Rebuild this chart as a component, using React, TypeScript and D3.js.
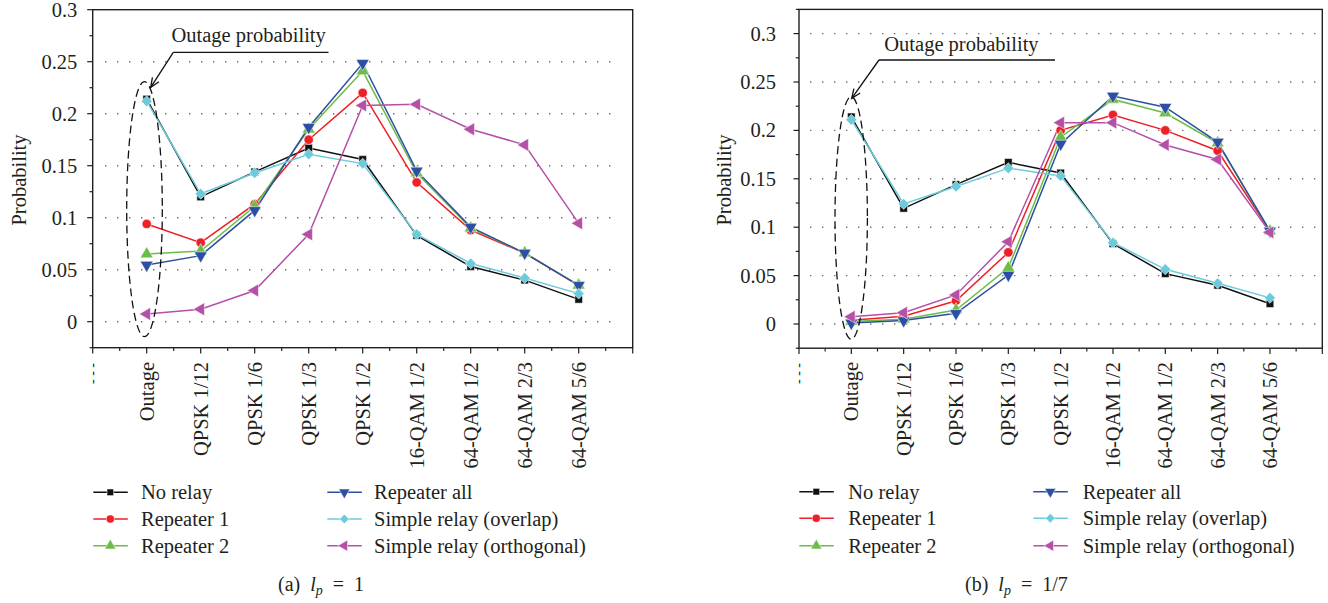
import React from "react";
import * as d3 from "d3";

const categories = ["Outage", "QPSK 1/12", "QPSK 1/6", "QPSK 1/3", "QPSK 1/2", "16-QAM 1/2", "64-QAM 1/2", "64-QAM 2/3", "64-QAM 5/6"];
const seriesNames = ["No relay", "Repeater 1", "Repeater 2", "Repeater all", "Simple relay (overlap)", "Simple relay (orthogonal)"];

// (a) l_p = 1
const noRelayA = [0.214, 0.120, 0.144, 0.167, 0.156, 0.083, 0.053, 0.040, 0.0215];
const repeater1A = [0.094, 0.076, 0.113, 0.175, 0.220, 0.134, 0.088, 0.066, 0.035];
const repeater2A = [0.065, 0.068, 0.111, 0.185, 0.241, 0.143, 0.090, 0.066, 0.035];
const repeaterAllA = [0.0545, 0.0635, 0.107, 0.187, 0.2485, 0.145, 0.091, 0.066, 0.035];
const overlapA = [0.212, 0.123, 0.143, 0.161, 0.152, 0.084, 0.056, 0.042, 0.027];
const orthogonalA = [0.0074, 0.012, 0.030, 0.084, 0.208, 0.209, 0.185, 0.170, 0.0946];

// (b) l_p = 1/7
const noRelayB = [0.214, 0.1195, 0.144, 0.167, 0.156, 0.083, 0.052, 0.040, 0.021];
const repeater1B = [0.004, 0.008, 0.024, 0.074, 0.200, 0.216, 0.200, 0.179, 0.096];
const repeater2B = [0.0025, 0.005, 0.0145, 0.058, 0.193, 0.232, 0.218, 0.187, 0.096];
const repeaterAllB = [0.001, 0.0035, 0.011, 0.0506, 0.186, 0.2355, 0.224, 0.188, 0.096];
const overlapB = [0.211, 0.124, 0.142, 0.161, 0.153, 0.084, 0.0565, 0.042, 0.027];
const orthogonalB = [0.0075, 0.0117, 0.030, 0.085, 0.208, 0.208, 0.185, 0.170, 0.0947];

const yTickLabelsA = [0, 0.05, 0.1, 0.15, 0.2, 0.25, 0.3];
const yTickLabelsB = [0, 0.05, 0.1, 0.15, 0.2, 0.25, 0.3];
const gridA = [0, 0.05, 0.1, 0.15, 0.2, 0.25];
const gridB = [0, 0.05, 0.1, 0.15, 0.2, 0.25, 0.3];

const COLORS = ["#111111", "#ee1f26", "#6cbd45", "#2c4fa3", "#6ccbdb", "#b550a7"];
const TEXT = "#231f20";
const FONT = "'Liberation Serif', 'Times New Roman', serif";

type Shape = "square" | "circle" | "up" | "down" | "diamond" | "left";
const SHAPES: Shape[] = ["square", "circle", "up", "down", "diamond", "left"];

function markerPath(shape: Shape, scale: number): { d: string; rot: number } {
  const s = scale;
  switch (shape) {
    case "square":
      return { d: d3.symbol(d3.symbolSquare, 58 * s)()!, rot: 0 };
    case "circle":
      return { d: d3.symbol(d3.symbolCircle, 68 * s)()!, rot: 0 };
    case "up":
      return { d: d3.symbol(d3.symbolTriangle, 72 * s)()!, rot: 0 };
    case "down":
      return { d: d3.symbol(d3.symbolTriangle, 72 * s)()!, rot: 180 };
    case "diamond":
      return { d: d3.symbol(d3.symbolSquare, 60 * s)()!, rot: 45 };
    case "left":
      return { d: d3.symbol(d3.symbolTriangle, 72 * s)()!, rot: -90 };
  }
}

function Marker({ shape, x, y, color, scale = 1 }: { shape: Shape; x: number; y: number; color: string; scale?: number }) {
  const m = markerPath(shape, scale);
  return <path d={m.d} transform={`translate(${x},${y}) rotate(${m.rot})`} fill={color} stroke="#ffffff" strokeWidth={0.5} />;
}

interface PanelProps {
  series: number[][];
  xRange: [number, number];
  yDomain: [number, number];
  yRange: [number, number];
  grid: number[];
  gridX: [number, number];
  yLabels: number[];
  labelGap: number;
  titleX: number;
  annotation: { tx: number; ty: number; ux1: number; ux2: number; uy: number; ax: number; ay: number; ex: number; ey: number; erx: number; ery: number };
  legend: { c1line: number; c1text: number; c2line: number; c2text: number; rows: number[] };
  caption: { x: number; y: number; letter: string; value: string };
}

function Panel(p: PanelProps) {
  const x = d3.scaleLinear().domain([-1, 9]).range(p.xRange);
  const y = d3.scaleLinear().domain(p.yDomain).range(p.yRange);
  const line = d3
    .line<number>()
    .x((_, i) => x(i))
    .y((d) => y(d));
  const [x0, x1] = p.xRange;
  const yBottom = p.yRange[0];
  const yTop = p.yRange[1];
  const yMinor = d3.range(Math.round(p.yDomain[0] / 0.025), Math.round(p.yDomain[1] / 0.025) + 1).map((k) => k * 0.025);
  const xTicks = d3.range(-2, 19).map((k) => k / 2);
  const a = p.annotation;
  const ang = Math.atan2(a.ay - a.uy, a.ax - a.ux1);
  const hl = 10;
  const h1 = [a.ax - hl * Math.cos(ang - 0.4), a.ay - hl * Math.sin(ang - 0.4)];
  const h2 = [a.ax - hl * Math.cos(ang + 0.4), a.ay - hl * Math.sin(ang + 0.4)];

  return (
    <g fontFamily={FONT}>
      {p.grid.map((g) => (
        <line key={"g" + g} x1={p.gridX[0]} x2={p.gridX[1]} y1={y(g)} y2={y(g)} stroke="#6d6e70" strokeWidth={1.4} strokeDasharray="1.4 10.6" />
      ))}
      <rect x={x0} y={yTop} width={x1 - x0} height={yBottom - yTop} fill="none" stroke={TEXT} strokeWidth={1.4} />
      {yMinor.map((v, i) => {
        const major = Math.abs(v / 0.05 - Math.round(v / 0.05)) < 1e-6;
        return <line key={"yt" + i} x1={x0 - (major ? 5.5 : 3.2)} x2={x0} y1={y(v)} y2={y(v)} stroke={TEXT} strokeWidth={1.2} />;
      })}
      {p.yLabels.map((v) => (
        <text key={"yl" + v} x={x0 - p.labelGap} y={y(v)} dy="0.34em" textAnchor="end" fontSize={20.5} fill={TEXT}>
          {String(v)}
        </text>
      ))}
      <text transform={`translate(${p.titleX},180) rotate(-90)`} textAnchor="middle" fontSize={20.5} fill={TEXT}>
        Probability
      </text>
      {xTicks.map((v, i) => {
        const major = Number.isInteger(v);
        return <line key={"xt" + i} x1={x(v)} x2={x(v)} y1={yBottom} y2={yBottom + (major ? 5.7 : 3.3)} stroke={TEXT} strokeWidth={1.2} />;
      })}
      <text transform={`translate(${x(-1)},363) rotate(-90)`} textAnchor="end" dy="0.3em" fontSize={14} fill={TEXT}>
        - - -
      </text>
      {categories.map((c, i) => (
        <text key={"xl" + i} transform={`translate(${x(i)},362) rotate(-90)`} textAnchor="end" dy="0.34em" fontSize={20.5} fill={TEXT}>
          {c}
        </text>
      ))}
      {p.series.map((s, si) => (
        <path key={"s" + si} d={line(s)!} fill="none" stroke={COLORS[si]} strokeWidth={1.5} />
      ))}
      {p.series.map((s, si) => (
        <g key={"m" + si}>
          {s.map((v, i) => (
            <Marker key={i} shape={SHAPES[si]} x={x(i)} y={y(v)} color={COLORS[si]} />
          ))}
        </g>
      ))}
      <ellipse cx={a.ex} cy={a.ey} rx={a.erx} ry={a.ery} fill="none" stroke="#111" strokeWidth={1.3} strokeDasharray="8 4.5" />
      <text x={a.tx} y={a.ty} fontSize={20.5} fill={TEXT}>
        Outage probability
      </text>
      <line x1={a.ux1} x2={a.ux2} y1={a.uy} y2={a.uy} stroke="#111" strokeWidth={1.3} />
      <line x1={a.ux1} y1={a.uy} x2={a.ax} y2={a.ay} stroke="#111" strokeWidth={1.3} />
      <polyline points={`${h1[0]},${h1[1]} ${a.ax},${a.ay} ${h2[0]},${h2[1]}`} fill="none" stroke="#111" strokeWidth={1.3} />
      {seriesNames.map((n, si) => {
        const col = si < 3 ? 0 : 1;
        const row = si % 3;
        const lx = col === 0 ? p.legend.c1line : p.legend.c2line;
        const tx = col === 0 ? p.legend.c1text : p.legend.c2text;
        const ly = p.legend.rows[row];
        return (
          <g key={"lg" + si}>
            <line x1={lx} x2={lx + 34.5} y1={ly} y2={ly} stroke={COLORS[si]} strokeWidth={1.5} />
            <Marker shape={SHAPES[si]} x={lx + 17} y={ly} color={COLORS[si]} scale={0.75} />
            <text x={tx} y={ly} dy="0.34em" fontSize={20.5} fill={TEXT}>
              {n}
            </text>
          </g>
        );
      })}
      <text x={p.caption.x} y={p.caption.y} fontSize={20} fill={TEXT}>
        {`(${p.caption.letter})\u00a0\u00a0`}
        <tspan fontStyle="italic">l</tspan>
        <tspan fontStyle="italic" fontSize={14} dy={4}>
          p
        </tspan>
        <tspan dy={-4}>{`\u2002=\u2002${p.caption.value}`}</tspan>
      </text>
    </g>
  );
}

export default function App() {
  return (
    <svg width={1328} height={603} style={{ position: "absolute", left: 0, top: 0, background: "#fff" }}>
      <Panel
        series={[noRelayA, repeater1A, repeater2A, repeaterAllA, overlapA, orthogonalA]}
        xRange={[92.7, 632.7]}
        yDomain={[-0.025, 0.3]}
        yRange={[347.7, 9.7]}
        grid={gridA}
        gridX={[105, 612]}
        yLabels={yTickLabelsA}
        labelGap={15.4}
        titleX={25.5}
        annotation={{ tx: 171.5, ty: 42, ux1: 173.3, ux2: 328.5, uy: 52.3, ax: 150.7, ay: 87.3, ex: 144.5, ey: 209.2, erx: 17.8, ery: 127.5 }}
        legend={{ c1line: 93.3, c1text: 141, c2line: 327.3, c2text: 374, rows: [492.3, 519, 545.7] }}
        caption={{ x: 278, y: 591, letter: "a", value: "1" }}
      />
      <Panel
        series={[noRelayB, repeater1B, repeater2B, repeaterAllB, overlapB, orthogonalB]}
        xRange={[799, 1322.3]}
        yDomain={[-0.025, 0.325]}
        yRange={[348.2, 9.4]}
        grid={gridB}
        gridX={[810, 1317]}
        yLabels={yTickLabelsB}
        labelGap={23}
        titleX={731}
        annotation={{ tx: 884.3, ty: 50.5, ux1: 879, ux2: 1055, uy: 60, ax: 851.7, ay: 98.3, ex: 851.2, ey: 218, erx: 16.2, ery: 121.3 }}
        legend={{ c1line: 799.3, c1text: 848.3, c2line: 1033.3, c2text: 1082.7, rows: [491.7, 518.3, 545.7] }}
        caption={{ x: 965, y: 591, letter: "b", value: "1/7" }}
      />
    </svg>
  );
}
